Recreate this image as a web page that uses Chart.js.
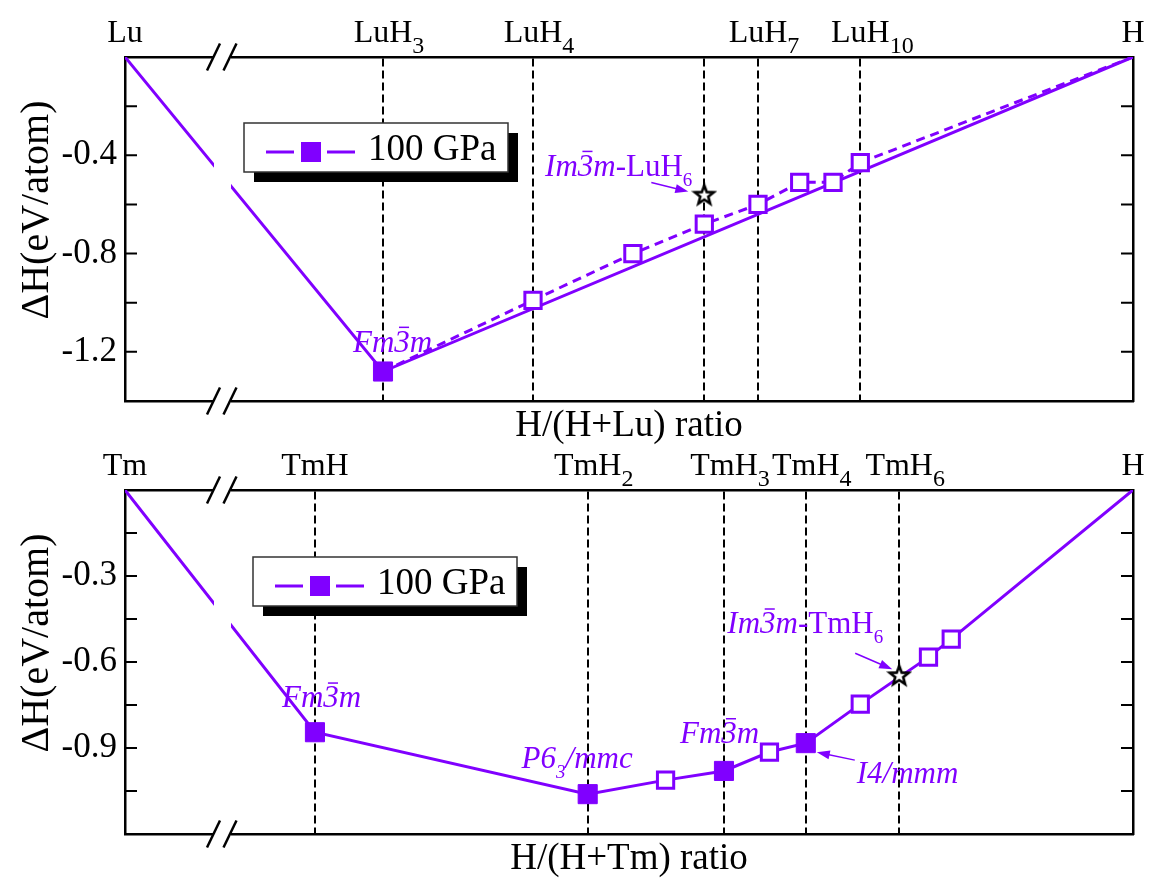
<!DOCTYPE html>
<html>
<head>
<meta charset="utf-8">
<script src="https://cdn.jsdelivr.net/npm/chart.js@4.4.1/dist/chart.umd.min.js"></script>
<style>
  html, body { margin: 0; padding: 0; background: #fff; }
  #wrap { position: relative; width: 1156px; height: 878px; overflow: hidden; background: #fff; }
  #wrap canvas { position: absolute; left: 0; }
  #lu { top: 0; }
  #tm { top: 440px; }
</style>
</head>
<body>
<div id="wrap">
  <canvas id="lu" width="1156" height="445"></canvas>
  <canvas id="tm" width="1156" height="438"></canvas>
</div>
<script>
var PURPLE = '#8000ff';
var SERIF = '"Liberation Serif", "Times New Roman", serif';

// Lu-H, 100 GPa
var luHullX = [0, 0.75, 1];
var luHullY = [0, -1.28, 0];
var luMetaX = [0.8, 0.8333, 0.8571, 0.875, 0.8889, 0.9, 0.9091];
var luMetaY = [-0.99, -0.80, -0.68, -0.60, -0.51, -0.51, -0.43];
var luStarX = [0.8571];
var luStarY = [-0.56];
var luGuideX = [0.75, 0.8, 0.8571, 0.875, 0.9091];
var luNameX = [0, 0.75, 0.8, 0.875, 0.9091, 1];
var luNames = ['Lu', 'LuH_3', 'LuH_4', 'LuH_7', 'LuH_10', 'H'];
var luYLabels = [-0.4, -0.8, -1.2];

// Tm-H, 100 GPa
var tmHullX = [0, 0.5, 0.6667, 0.75, 0.8, 1];
var tmHullY = [0, -0.845, -1.061, -0.98, -0.883, 0];
var tmMetaX = [0.7143, 0.7778, 0.8333, 0.875, 0.8889];
var tmMetaY = [-1.012, -0.914, -0.747, -0.583, -0.52];
var tmStarX = [0.8571];
var tmStarY = [-0.646];
var tmGuideX = [0.5, 0.6667, 0.75, 0.8, 0.8571];
var tmNameX = [0, 0.5, 0.6667, 0.75, 0.8, 0.8571, 1];
var tmNames = ['Tm', 'TmH', 'TmH_2', 'TmH_3', 'TmH_4', 'TmH_6', 'H'];
var tmYLabels = [-0.3, -0.6, -0.9];

// open star used for the Im-3m phases
var starPoint = ( function () {
    var c = document.createElement( 'canvas' );
    c.width = 26;
    c.height = 26;
    var g = c.getContext( '2d' );
    g.beginPath();
    for ( var i = 0; i < 10; i++ ) {
        var r = i % 2 ? 4.2 : 10;
        var a = -Math.PI / 2 + i * Math.PI / 5;
        g.lineTo( 13 + r * Math.cos( a ), 13.8 + r * Math.sin( a ) );
    }
    g.closePath();
    g.fillStyle = '#fff';
    g.fill();
    g.lineWidth = 2.6;
    g.strokeStyle = '#000';
    g.stroke();
    return c;
} )();

// parts: [text, flags] with i = italic, b = bar over, s = subscript
var drawRich = function ( ctx, parts, x, y, size, align, sub ) {
    var subScale = sub ? sub[ 0 ] : 0.62;
    var subDrop = sub ? sub[ 1 ] : 0.32;
    var fontOf = function ( f ) {
        var s = f.indexOf( 's' ) >= 0 ? Math.round( size * subScale ) : size;
        return ( f.indexOf( 'i' ) >= 0 ? 'italic ' : '' ) + s + 'px ' + SERIF;
    };
    var total = 0;
    var main = 0;
    parts.forEach( function ( p ) {
        ctx.font = fontOf( p[ 1 ] );
        var w = ctx.measureText( p[ 0 ] ).width;
        total += w;
        if ( p[ 1 ].indexOf( 's' ) < 0 ) {
            main += w;
        }
    } );
    // 'center' centres the full-size text, the subscript hangs to the right
    var cx = align === 'right' ? x - total : align === 'center' ? x - main / 2 : x;
    ctx.textAlign = 'left';
    ctx.textBaseline = 'alphabetic';
    parts.forEach( function ( p ) {
        ctx.font = fontOf( p[ 1 ] );
        var w = ctx.measureText( p[ 0 ] ).width;
        var isSub = p[ 1 ].indexOf( 's' ) >= 0;
        ctx.fillText( p[ 0 ], cx, isSub ? y + size * subDrop : y );
        if ( p[ 1 ].indexOf( 'b' ) >= 0 ) {
            ctx.beginPath();
            ctx.lineWidth = 1.5;
            ctx.moveTo( cx + w * 0.3, y - size * 0.78 );
            ctx.lineTo( cx + w * 0.95, y - size * 0.78 );
            ctx.stroke();
        }
        cx += w;
    } );
};

var formula = function ( name ) {
    var bits = name.split( '_' );
    return bits.length > 1 ? [ [ bits[ 0 ], '' ], [ bits[ 1 ], 's' ] ] : [ [ bits[ 0 ], '' ] ];
};

var arrow = function ( ctx, x1, y1, x2, y2 ) {
    var ang = Math.atan2( y2 - y1, x2 - x1 );
    ctx.beginPath();
    ctx.lineWidth = 1.5;
    ctx.moveTo( x1, y1 );
    ctx.lineTo( x2 - 10 * Math.cos( ang ), y2 - 10 * Math.sin( ang ) );
    ctx.stroke();
    ctx.beginPath();
    ctx.moveTo( x2, y2 );
    ctx.lineTo( x2 - 13 * Math.cos( ang ) + 4.5 * Math.sin( ang ), y2 - 13 * Math.sin( ang ) - 4.5 * Math.cos( ang ) );
    ctx.lineTo( x2 - 13 * Math.cos( ang ) - 4.5 * Math.sin( ang ), y2 - 13 * Math.sin( ang ) + 4.5 * Math.cos( ang ) );
    ctx.closePath();
    ctx.fill();
};

var decor = {
    id: 'decor',
    afterDraw: function ( chart, args, o ) {
        var ctx = chart.ctx;
        var a = chart.chartArea;
        var xs = chart.scales.x;
        var ys = chart.scales.y;
        var px = function ( v ) {
            return xs.getPixelForValue( v < o.axisStart ? o.axisStart : v );
        };
        ctx.save();

        // axis break: blank band plus the // marks on both frame lines
        ctx.fillStyle = '#fff';
        ctx.fillRect( a.left + 89, a.top - 3, 17, a.bottom - a.top + 6 );
        ctx.strokeStyle = '#000';
        ctx.lineWidth = 2.5;
        [ a.top, a.bottom ].forEach( function ( yy ) {
            [ 88.5, 105 ].forEach( function ( off ) {
                ctx.beginPath();
                ctx.moveTo( a.left + off - 6.5, yy + 13.5 );
                ctx.lineTo( a.left + off + 6.5, yy - 13.5 );
                ctx.stroke();
            } );
        } );

        // inward ticks on both y frames
        ctx.lineWidth = 2;
        ys.ticks.forEach( function ( t ) {
            var y = ys.getPixelForValue( t.value );
            if ( y < a.top + 3 || y > a.bottom - 3 ) {
                return;
            }
            ctx.beginPath();
            ctx.moveTo( a.left, y );
            ctx.lineTo( a.left + 12, y );
            ctx.moveTo( a.right, y );
            ctx.lineTo( a.right - 12, y );
            ctx.stroke();
        } );

        // legend box with drop shadow
        var bx = a.left + o.legend[ 0 ];
        var by = a.top + o.legend[ 1 ];
        ctx.fillStyle = '#000';
        ctx.fillRect( bx + 10, by + 10, 264, 49 );
        ctx.fillStyle = '#fff';
        ctx.fillRect( bx, by, 264, 49 );
        ctx.strokeStyle = '#333';
        ctx.lineWidth = 1.5;
        ctx.strokeRect( bx, by, 264, 49 );
        ctx.strokeStyle = PURPLE;
        ctx.fillStyle = PURPLE;
        ctx.lineWidth = 3;
        ctx.beginPath();
        ctx.moveTo( bx + 22, by + 29 );
        ctx.lineTo( bx + 50, by + 29 );
        ctx.moveTo( bx + 83, by + 29 );
        ctx.lineTo( bx + 111, by + 29 );
        ctx.stroke();
        ctx.fillRect( bx + 57, by + 19, 20, 20 );
        ctx.fillStyle = '#000';
        ctx.font = '37px ' + SERIF;
        ctx.textBaseline = 'middle';
        ctx.textAlign = 'left';
        ctx.fillText( '100 GPa', bx + 124, by + 27 );

        // phase labels and arrows
        ctx.fillStyle = PURPLE;
        ctx.strokeStyle = PURPLE;
        o.notes.forEach( function ( n ) {
            var x0 = px( n.at[ 0 ] );
            var y0 = ys.getPixelForValue( n.at[ 1 ] );
            if ( n.parts ) {
                drawRich( ctx, n.parts, x0 + n.dx, y0 + n.dy, 31, n.align );
            } else {
                arrow( ctx, x0 + n.from[ 0 ], y0 + n.from[ 1 ], x0 + n.to[ 0 ], y0 + n.to[ 1 ] );
            }
        } );

        // compositions along the top edge
        ctx.fillStyle = '#000';
        ctx.strokeStyle = '#000';
        o.nameX.forEach( function ( v, i ) {
            drawRich( ctx, formula( o.names[ i ] ), px( v ), a.top - 15, 32, 'center', [ 0.75, 0.33 ] );
        } );

        // y title
        ctx.translate( 37, ( a.top + a.bottom ) / 2 - 19 );
        ctx.rotate( -Math.PI / 2 );
        ctx.font = '40px ' + SERIF;
        ctx.textAlign = 'center';
        ctx.textBaseline = 'middle';
        ctx.fillText( 'ΔH(eV/atom)', 0, 0 );
        ctx.restore();
    }
};

var makePanel = function ( id, p ) {
    var start = p.axisStart;
    var pts = function ( xs, ys ) {
        return xs.map( function ( x, i ) {
            return { x: x < start ? start : x, y: ys[ i ] };
        } );
    };
    var byX = function ( m, n ) {
        return m.x - n.x;
    };
    var hull = pts( p.hullX, p.hullY );
    var stable = hull.filter( function ( d, i ) {
        return p.hullX[ i ] > 0 && p.hullX[ i ] < 1;
    } );
    var meta = pts( p.metaX, p.metaY );
    var path = hull.filter( function ( d, i ) {
        return p.hullX[ i ] >= p.pathFrom;
    } ).concat( meta ).sort( byX );

    // Tm: one solid line runs through every structure; Lu: hull solid, the rest dashed
    var solid = p.pathDash.length ? hull : hull.filter( function ( d, i ) {
        return p.hullX[ i ] < p.pathFrom;
    } ).concat( path ).sort( byX );

    var yScale = function ( pos ) {
        return {
            type: 'linear',
            position: pos,
            min: p.yMin,
            max: 0,
            ticks: {
                display: pos === 'left',
                stepSize: p.yStep,
                autoSkip: false,
                padding: 8,
                color: '#000',
                font: { family: SERIF, size: 35 },
                callback: function ( v ) {
                    var hit = p.yLabels.some( function ( l ) {
                        return Math.abs( l - v ) < 1e-6;
                    } );
                    return hit ? v.toFixed( 1 ) : '';
                }
            },
            grid: { display: false, drawTicks: false },
            border: { display: true, color: '#000', width: 2.5 },
            afterFit: function ( s ) {
                s.width = pos === 'left' ? 125 : 23;
            }
        };
    };

    var datasets = [
        {
            data: pts( p.starX, p.starY ),
            showLine: false,
            pointStyle: starPoint,
            pointRadius: 10,
            order: 0
        },
        {
            data: stable,
            showLine: false,
            pointStyle: 'rect',
            pointRadius: 13.5,
            pointBackgroundColor: PURPLE,
            pointBorderColor: PURPLE,
            pointBorderWidth: 1,
            order: 1
        },
        {
            data: meta,
            showLine: false,
            pointStyle: 'rect',
            pointRadius: 11.5,
            pointBackgroundColor: '#fff',
            pointBorderColor: PURPLE,
            pointBorderWidth: 3,
            order: 2
        },
        {
            data: solid,
            borderColor: PURPLE,
            borderWidth: 3,
            pointRadius: 0,
            tension: 0,
            order: 4
        }
    ];
    if ( p.pathDash.length ) {
        datasets.push( {
            data: path,
            borderColor: PURPLE,
            borderWidth: 3,
            borderDash: p.pathDash,
            pointRadius: 0,
            tension: 0,
            order: 3
        } );
    }

    return new Chart( document.getElementById( id ), {
        type: 'line',
        data: { datasets: datasets },
        options: {
            responsive: false,
            animation: false,
            events: [],
            layout: { padding: 0 },
            plugins: {
                legend: { display: false },
                tooltip: { enabled: false },
                decor: {
                    axisStart: start,
                    legend: p.legend,
                    notes: p.notes,
                    nameX: p.nameX,
                    names: p.names
                }
            },
            scales: {
                x: {
                    type: 'linear',
                    position: 'bottom',
                    min: start,
                    max: 1,
                    ticks: { display: false },
                    grid: { display: false, drawTicks: false },
                    border: { display: true, color: '#000', width: 2.5 },
                    title: {
                        display: true,
                        text: p.xTitle,
                        color: '#000',
                        font: { family: SERIF, size: 37, lineHeight: 1 },
                        padding: { top: 0, bottom: 0 }
                    },
                    afterFit: function ( s ) {
                        s.height = p.bottomH;
                    }
                },
                x2: {
                    type: 'linear',
                    position: 'top',
                    min: start,
                    max: 1,
                    afterBuildTicks: function ( s ) {
                        s.ticks = p.guideX.map( function ( v ) {
                            return { value: v };
                        } );
                    },
                    ticks: { display: false },
                    grid: {
                        display: true,
                        drawTicks: false,
                        drawOnChartArea: true,
                        color: '#000',
                        lineWidth: 2
                    },
                    border: { display: true, color: '#000', width: 2.5, dash: [ 8, 4 ] },
                    afterFit: function ( s ) {
                        s.height = p.topH;
                    }
                },
                y: yScale( 'left' ),
                y2: yScale( 'right' )
            }
        },
        plugins: [ decor ]
    } );
};

var italic3 = function ( pre, post ) {
    return [ [ pre, 'i' ], [ '3', 'ib' ], [ post, 'i' ] ];
};

makePanel( 'lu', {
    axisStart: 0.664,
    pathFrom: 0.75,
    pathDash: [ 9, 6 ],
    hullX: luHullX, hullY: luHullY,
    metaX: luMetaX, metaY: luMetaY,
    starX: luStarX, starY: luStarY,
    guideX: luGuideX,
    nameX: luNameX, names: luNames,
    yMin: -1.4, yStep: 0.2, yLabels: luYLabels,
    xTitle: 'H/(H+Lu) ratio',
    topH: 57, bottomH: 44,
    legend: [ 119, 66 ],
    notes: [
        { at: [ luHullX[ 1 ], luHullY[ 1 ] ], parts: italic3( 'Fm', 'm' ), dx: -30, dy: -20, align: 'left' },
        { at: [ luStarX[ 0 ], luStarY[ 0 ] ], parts: italic3( 'Im', 'm' ).concat( [ [ '-LuH', '' ], [ '6', 's' ] ] ), dx: -12, dy: -19, align: 'right' },
        { at: [ luStarX[ 0 ], luStarY[ 0 ] ], from: [ -53, -12 ], to: [ -16, -3 ] }
    ]
} );

makePanel( 'tm', {
    axisStart: 0.3839,
    pathFrom: 0.8,
    pathDash: [],
    hullX: tmHullX, hullY: tmHullY,
    metaX: tmMetaX, metaY: tmMetaY,
    starX: tmStarX, starY: tmStarY,
    guideX: tmGuideX,
    nameX: tmNameX, names: tmNames,
    yMin: -1.2, yStep: 0.15, yLabels: tmYLabels,
    xTitle: 'H/(H+Tm) ratio',
    topH: 50, bottomH: 44,
    legend: [ 128, 67 ],
    notes: [
        { at: [ tmHullX[ 1 ], tmHullY[ 1 ] ], parts: italic3( 'Fm', 'm' ), dx: -33, dy: -25, align: 'left' },
        { at: [ tmHullX[ 2 ], tmHullY[ 2 ] ], parts: [ [ 'P6', 'i' ], [ '3', 'is' ], [ '/mmc', 'i' ] ], dx: 45, dy: -26, align: 'right' },
        { at: [ tmHullX[ 3 ], tmHullY[ 3 ] ], parts: italic3( 'Fm', 'm' ), dx: -44, dy: -28, align: 'left' },
        { at: [ tmHullX[ 4 ], tmHullY[ 4 ] ], parts: [ [ 'I4/mmm', 'i' ] ], dx: 51, dy: 40, align: 'left' },
        { at: [ tmHullX[ 4 ], tmHullY[ 4 ] ], from: [ 49, 17 ], to: [ 11, 9 ] },
        { at: [ tmStarX[ 0 ], tmStarY[ 0 ] ], parts: italic3( 'Im', 'm' ).concat( [ [ '-TmH', '' ], [ '6', 's' ] ] ), dx: -16, dy: -42, align: 'right' },
        { at: [ tmStarX[ 0 ], tmStarY[ 0 ] ], from: [ -44, -22 ], to: [ -7, -6 ] }
    ]
} );
</script>
</body>
</html>
